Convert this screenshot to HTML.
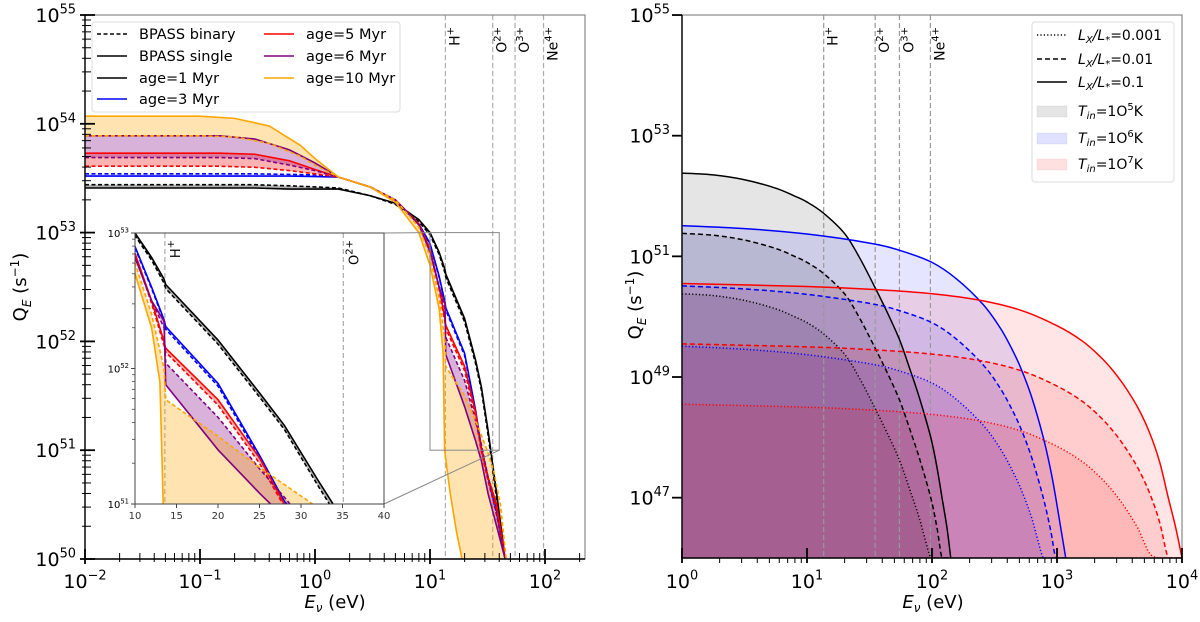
<!DOCTYPE html>
<html><head><meta charset="utf-8"><style>
html,body{margin:0;padding:0;background:#fff;width:1200px;height:622px;overflow:hidden;}
svg{display:block;font-family:"DejaVu Sans","Liberation Sans",sans-serif;}
</style></head><body>
<svg id="fig" width="1200" height="622" viewBox="0 0 1200 622" xmlns="http://www.w3.org/2000/svg">
<defs>
<clipPath id="clipL"><rect x="85" y="15" width="500" height="544"/></clipPath>
<clipPath id="clipI"><rect x="135" y="233" width="249" height="271"/></clipPath>
<clipPath id="clipR"><rect x="682" y="15" width="500" height="543"/></clipPath>
</defs>
<g id="left"></g>
<g id="right"></g>
</svg>
<script>
// ---------- LEFT PANEL DATA (log10 Q) ----------
const commonE = [0.01,0.15,0.3,0.6,1,1.6,3,5,8,10,12,13.5,13.7,20,25,28,32,38,45];
const age1Single = [53.41,53.41,53.41,53.40,53.40,53.40,53.34,53.27,53.12,53.0,52.82,52.66,52.62,52.21,51.82,51.58,51.18,50.6,49.9];
const age1Binary = [53.44,53.44,53.44,53.43,53.42,53.41,53.34,53.26,53.1,52.98,52.8,52.63,52.59,52.18,51.79,51.55,51.14,50.55,49.9];
const age3Single = [53.52,53.52,53.52,53.52,53.515,53.51,53.42,53.3,53.08,52.9,52.6,52.36,52.31,51.89,51.36,51.02,50.75,50.45,49.9];
const age3Binary = [53.54,53.54,53.54,53.535,53.53,53.51,53.42,53.3,53.08,52.89,52.59,52.35,52.29,51.87,51.34,51.0,50.72,50.42,49.9];
const age5Single = [53.73,53.73,53.72,53.66,53.58,53.51,53.42,53.3,53.08,52.85,52.5,52.2,52.15,51.77,51.34,51.0,50.75,50.5,49.9];
const age5Binary = [53.61,53.61,53.60,53.57,53.54,53.51,53.42,53.3,53.08,52.84,52.48,52.17,52.12,51.73,51.3,50.98,50.72,50.45,49.9];
const age6Single = [53.89,53.89,53.86,53.76,53.64,53.51,53.42,53.3,53.07,52.82,52.5,52.35,51.88,51.4,51.08,50.9,50.6,50.3,49.9];
const age6Binary = [53.69,53.69,53.68,53.62,53.57,53.51,53.42,53.3,53.07,52.82,52.5,52.3,52.04,51.64,51.26,51.05,50.75,50.4,49.9];
const age10SingleE = [0.01,0.1,0.2,0.4,0.75,1,1.6,3,5,8,10,12,13,13.4,15,17,19];
const age10Single = [54.07,54.07,54.05,53.98,53.8,53.68,53.51,53.42,53.28,53.0,52.7,52.3,51.9,51.0,50.6,50.25,49.9];
const age10BinaryE = [0.01,0.1,0.2,0.4,0.75,1,1.6,3,5,8,10,12,13.5,13.7,20,25,31.4,36,41,46];
const age10Binary = [53.89,53.89,53.88,53.82,53.7,53.62,53.51,53.42,53.3,53.05,52.78,52.4,52.0,51.77,51.5,51.27,51.0,50.8,50.5,49.9];
const ionEdges = [13.6,35.1,54.9,97.1];
const ionLabels = ['H','O','O','Ne'];
const ionSups = ['+','2+','3+','4+'];
const leftYTicks = [50,51,52,53,54,55];
const leftXTicks = [-2,-1,0,1,2];
const insetXTicks = [10,15,20,25,30,35,40];
const insetYTicks = [51,52,53];

// ---------- RIGHT PANEL DATA (log10 E, log10 Q for Lx/L*=0.1) ----------
const t5LogE = [0,0.25,0.5,0.75,0.9,1.0,1.13,1.3,1.42,1.54,1.64,1.74,1.82,1.9,1.99,2.04,2.08,2.12,2.15];
const t5Q    = [52.38,52.35,52.27,52.13,52.0,51.9,51.72,51.38,50.98,50.5,50.08,49.62,49.15,48.65,48.0,47.5,47.0,46.5,46.0];
const t6LogE = [0,0.5,1,1.5,1.74,2.0,2.2,2.41,2.55,2.65,2.72,2.8,2.89,2.95,2.99,3.03,3.07];
const t6Q    = [51.51,51.46,51.37,51.22,51.1,50.9,50.62,50.2,49.8,49.42,49.1,48.65,48.0,47.45,47.0,46.5,46.0];
const t7LogE = [0,1,1.54,2,2.39,2.72,3,3.2,3.34,3.45,3.55,3.65,3.74,3.82,3.89,3.95,4.0];
const t7Q    = [50.55,50.5,50.45,50.38,50.27,50.1,49.85,49.6,49.35,49.1,48.82,48.48,48.08,47.6,47.0,46.5,46.0];
const lxRatios = [0.001,0.01,0.1];
const rightYTicks = [47,49,51,53,55];
const rightXTicks = [0,1,2,3,4];

// ---------- scales ----------
const lx = E => 85 + (Math.log10(E) + 2) * 115;
const ly = q => 559 - (Math.max(q, 50) - 50) * 108.8;
const ix = E => 135 + (E - 10) * 8.3;
const iy = q => 504 - (q - 51) * 135.5;
const rx = le => 682 + le * 125;
const ry = q => 558 - (Math.max(q, 46) - 46) * 60.33;

const NS = 'http://www.w3.org/2000/svg';
function mk(tag, attrs, parent) {
  const el = document.createElementNS(NS, tag);
  for (const k in attrs) el.setAttribute(k, attrs[k]);
  parent.appendChild(el);
  return el;
}
function linePath(xs, ys) { return xs.map((x, i) => (i ? 'L' : 'M') + x.toFixed(2) + ',' + ys[i].toFixed(2)).join(''); }
function smoothPath(pts) {
  let d = 'M' + pts[0][0] + ',' + pts[0][1];
  for (let i = 0; i < pts.length - 1; i++) {
    const p0 = pts[Math.max(0, i - 1)], p1 = pts[i], p2 = pts[i + 1], p3 = pts[Math.min(pts.length - 1, i + 2)];
    const c1x = p1[0] + (p2[0] - p0[0]) / 6, c1y = Math.min(558, p1[1] + (p2[1] - p0[1]) / 6);
    const c2x = p2[0] - (p3[0] - p1[0]) / 6, c2y = Math.min(558, p2[1] - (p3[1] - p1[1]) / 6);
    d += 'C' + c1x.toFixed(2) + ',' + c1y.toFixed(2) + ' ' + c2x.toFixed(2) + ',' + c2y.toFixed(2) + ' ' + p2[0].toFixed(2) + ',' + p2[1].toFixed(2);
  }
  return d;
}
function powLabel(parent, x, y, exp, anchor, size, name) {
  const t = mk('text', {x: x, y: y, 'text-anchor': anchor, 'font-size': size, fill: '#000'}, parent);
  
  
  const a = mk('tspan', {}, t); a.textContent = '10';
  const b = mk('tspan', {dy: -size * 0.45, 'font-size': size * 0.68}, t); b.textContent = exp;
  return t;
}

const L = document.getElementById('left');
const R = document.getElementById('right');

// ================= LEFT PANEL =================
const gL = mk('g', {'clip-path': 'url(#clipL)'}, L);



const leftSeries = [
  {name: 'age-1', color: '#000000', sE: commonE, s: age1Single, bE: commonE, b: age1Binary},
  {name: 'age-3', color: '#0000ff', sE: commonE, s: age3Single, bE: commonE, b: age3Binary},
  {name: 'age-5', color: '#ff0000', sE: commonE, s: age5Single, bE: commonE, b: age5Binary},
  {name: 'age-6', color: '#800080', sE: commonE, s: age6Single, bE: commonE, b: age6Binary},
  {name: 'age-10', color: '#ffa500', sE: age10SingleE, s: age10Single, bE: age10BinaryE, b: age10Binary}
];
function drawAges(g, fx, fy, sw, prefix) {
  leftSeries.forEach(sr => {
    const xs = sr.sE.map(fx), ys = sr.s.map(fy);
    const xb = sr.bE.map(fx), yb = sr.b.map(fy);
    const d = linePath(xs.concat(xb.slice().reverse()), ys.concat(yb.slice().reverse())) + 'Z';
    const f = mk('path', {d: d, fill: sr.color, 'fill-opacity': sr.name === 'age-3' ? 0.15 : 0.3, stroke: 'none'}, g);
    
    
  });
  leftSeries.forEach(sr => {
    const pb = mk('path', {d: linePath(sr.bE.map(fx), sr.b.map(fy)), fill: 'none', stroke: sr.color, 'stroke-width': sw, 'stroke-dasharray': '4,2.5'}, g);
    
    
    const ps = mk('path', {d: linePath(sr.sE.map(fx), sr.s.map(fy)), fill: 'none', stroke: sr.color, 'stroke-width': sw}, g);
    
    
  });
}
ionEdges.forEach((e, i) => {
  const v = mk('line', {x1: lx(e), x2: lx(e), y1: 15, y2: 559, stroke: '#aaa', 'stroke-width': 1.2, 'stroke-dasharray': '5,3'}, gL);
  
  
});
drawAges(gL, lx, ly, 1.6, 'main-');

function ionLabel(parent, x, i) {
  const t = mk('text', {transform: 'translate(' + (x + 14) + ',27) rotate(-90)', 'text-anchor': 'end', 'font-size': 14}, parent);
  
  
  const a = mk('tspan', {}, t); a.textContent = ionLabels[i];
  const b = mk('tspan', {dy: -6, 'font-size': 10}, t); b.textContent = ionSups[i];
}
ionEdges.forEach((e, i) => ionLabel(L, lx(e), i));

const zr = mk('rect', {x: lx(10), y: ly(53), width: lx(40) - lx(10), height: ly(51) - ly(53), fill: 'none', stroke: '#888', 'stroke-width': 1}, L);


const c1 = mk('line', {x1: 384, y1: 233, x2: lx(10), y2: ly(53), stroke: '#888', 'stroke-width': 1}, L);


const c2 = mk('line', {x1: 384, y1: 504, x2: lx(40), y2: ly(51), stroke: '#888', 'stroke-width': 1}, L);



const sp = mk('rect', {x: 85, y: 15, width: 500, height: 544, fill: 'none', stroke: '#888', 'stroke-width': 1.2}, L);


const spl = mk('path', {d: 'M85,15V559H585', fill: 'none', stroke: '#000', 'stroke-width': 1.4}, L);



leftYTicks.forEach(q => {
  const y = ly(q);
  const t = mk('line', {x1: 80, x2: 95, y1: y, y2: y, stroke: '#000', 'stroke-width': 1.8}, L);
  
  
  powLabel(L, 76, y + 7, String(q), 'end', 19, 'left-y-tick-label');
  if (q < 55) for (let m = 2; m <= 9; m++) {
    const ym = ly(q + Math.log10(m));
    const mt = mk('line', {x1: 82, x2: 91, y1: ym, y2: ym, stroke: '#000', 'stroke-width': 1}, L);
    
    
  }
});
leftXTicks.forEach(p => {
  const x = lx(Math.pow(10, p));
  const t = mk('line', {x1: x, x2: x, y1: 549, y2: 564, stroke: '#000', 'stroke-width': 1.8}, L);
  
  
  powLabel(L, x, 588, p < 0 ? '\u2212' + (-p) : String(p), 'middle', 19, 'left-x-tick-label');
  for (let m = 2; m <= 9; m++) {
    const xm = lx(m * Math.pow(10, p));
    if (xm > 585) break;
    const mt = mk('line', {x1: xm, x2: xm, y1: 553, y2: 562, stroke: '#000', 'stroke-width': 1}, L);
    
    
  }
});
function axisTitles(parent, cx, cy, xx, xy, prefix) {
  const yt = mk('text', {transform: 'translate(' + cx + ',' + cy + ') rotate(-90)', 'text-anchor': 'middle', 'font-size': 18}, parent);
  
  
  const a = mk('tspan', {}, yt); a.textContent = 'Q';
  const b = mk('tspan', {dy: 5, 'font-size': 12, 'font-style': 'italic'}, yt); b.textContent = 'E';
  const c = mk('tspan', {dy: -5}, yt); c.textContent = ' (s';
  const d = mk('tspan', {dy: -7, 'font-size': 12}, yt); d.textContent = '\u22121';
  const e = mk('tspan', {dy: 7}, yt); e.textContent = ')';
  const xt = mk('text', {x: xx, y: xy, 'text-anchor': 'middle', 'font-size': 18}, parent);
  
  
  const f = mk('tspan', {'font-style': 'italic'}, xt); f.textContent = 'E';
  const g = mk('tspan', {dy: 4, 'font-size': 12, 'font-style': 'italic'}, xt); g.textContent = '\u03bd';
  const h = mk('tspan', {dy: -4}, xt); h.textContent = ' (eV)';
}
axisTitles(L, 26, 287, 335, 608, 'left-');

const lg = mk('g', {}, L);


const lgb = mk('rect', {x: 92, y: 22, width: 308, height: 90, rx: 3, fill: '#fff', 'fill-opacity': 0.85, stroke: '#ddd'}, lg);


const legItems = [
  {t: 'BPASS binary', c: '#000', dash: '4,2.5', x: 97, y: 34},
  {t: 'BPASS single', c: '#000', dash: '', x: 97, y: 56},
  {t: 'age=1 Myr', c: '#000', dash: '', x: 97, y: 78},
  {t: 'age=3 Myr', c: '#0000ff', dash: '', x: 97, y: 99},
  {t: 'age=5 Myr', c: '#ff0000', dash: '', x: 264, y: 34},
  {t: 'age=6 Myr', c: '#800080', dash: '', x: 264, y: 56},
  {t: 'age=10 Myr', c: '#ffa500', dash: '', x: 264, y: 78}
];
legItems.forEach(it => {
  const ln = mk('line', {x1: it.x, x2: it.x + 30, y1: it.y, y2: it.y, stroke: it.c, 'stroke-width': 1.6, 'stroke-dasharray': it.dash}, lg);
  
  
  const tx = mk('text', {x: it.x + 42, y: it.y + 5, 'font-size': 14.5}, lg);
  
  
  tx.textContent = it.t;
});

const gI0 = mk('g', {}, L);


const ib = mk('rect', {x: 135, y: 233, width: 249, height: 271, fill: '#fff'}, gI0);


const gI = mk('g', {'clip-path': 'url(#clipI)'}, gI0);


[13.6, 35.1].forEach((e, i) => {
  const v = mk('line', {x1: ix(e), x2: ix(e), y1: 233, y2: 504, stroke: '#aaa', 'stroke-width': 1.2, 'stroke-dasharray': '5,3'}, gI);
  
  
  const t = mk('text', {transform: 'translate(' + (ix(e) + 15) + ',240) rotate(-90)', 'text-anchor': 'end', 'font-size': 13}, gI);
  
  
  const a = mk('tspan', {}, t); a.textContent = ionLabels[i];
  const b = mk('tspan', {dy: -6, 'font-size': 10}, t); b.textContent = ionSups[i];
});
drawAges(gI, ix, iy, 1.6, 'inset-');
const iframe = mk('rect', {x: 135, y: 233, width: 249, height: 271, fill: 'none', stroke: '#444', 'stroke-width': 1}, gI0);


insetXTicks.forEach(e => {
  const t = mk('line', {x1: ix(e), x2: ix(e), y1: 504, y2: 508, stroke: '#444'}, gI0);
  
  
  const tl = mk('text', {x: ix(e), y: 519, 'text-anchor': 'middle', 'font-size': 10, fill: '#333'}, gI0);
  
  
  tl.textContent = String(e);
});
insetYTicks.forEach(q => {
  const t = mk('line', {x1: 131, x2: 135, y1: iy(q), y2: iy(q), stroke: '#444'}, gI0);
  
  
  powLabel(gI0, 129, iy(q) + 4, String(q), 'end', 10, 'inset-y-tick-label');
  if (q < 53) for (let m = 2; m <= 9; m++) {
    const ym = iy(q + Math.log10(m));
    const mt = mk('line', {x1: 132, x2: 135, y1: ym, y2: ym, stroke: '#444', 'stroke-width': 0.8}, gI0);
    
    
  }
});

// ================= RIGHT PANEL =================
const gR = mk('g', {'clip-path': 'url(#clipR)'}, R);


const rightSeries = [
  {name: 't5', color: '#000000', fillOp: 0.1, le: t5LogE, q: t5Q},
  {name: 't6', color: '#0000ff', fillOp: 0.1, le: t6LogE, q: t6Q},
  {name: 't7', color: '#ff0000', fillOp: 0.1, le: t7LogE, q: t7Q}
];
const dashes = ['1.2,2.2', '5,3', ''];
rightSeries.forEach(sr => {
  lxRatios.forEach((r, k) => {
    const sh = Math.log10(r / 0.1);
    const pts = sr.le.map((le, i) => [rx(le), ry(sr.q[i] + sh)]);
    const last = pts[pts.length - 1];
    const d = smoothPath(pts) + 'L' + last[0] + ',558L' + pts[0][0] + ',558Z';
    const f = mk('path', {d: d, fill: sr.color, 'fill-opacity': sr.fillOp, stroke: 'none'}, gR);
    
    
  });
});
ionEdges.forEach(e => {
  const v = mk('line', {x1: rx(Math.log10(e)), x2: rx(Math.log10(e)), y1: 15, y2: 558, stroke: '#999', 'stroke-width': 1.2, 'stroke-dasharray': '5,3'}, gR);
  
  
});
rightSeries.forEach(sr => {
  lxRatios.forEach((r, k) => {
    const sh = Math.log10(r / 0.1);
    const pts = sr.le.map((le, i) => [rx(le), ry(sr.q[i] + sh)]);
    const p = mk('path', {d: smoothPath(pts), fill: 'none', stroke: sr.color, 'stroke-width': 1.5, 'stroke-dasharray': dashes[k]}, gR);
    
    
  });
});
ionEdges.forEach((e, i) => ionLabel(R, rx(Math.log10(e)), i));
const spR = mk('rect', {x: 682, y: 15, width: 500, height: 543, fill: 'none', stroke: '#888', 'stroke-width': 1.2}, R);


const splR = mk('path', {d: 'M682,15V558H1182', fill: 'none', stroke: '#000', 'stroke-width': 1.4}, R);


rightYTicks.forEach(q => {
  const y = ry(q);
  const t = mk('line', {x1: 672, x2: 682, y1: y, y2: y, stroke: '#000', 'stroke-width': 1.8}, R);
  
  
  powLabel(R, 670, y + 7, String(q), 'end', 19, 'right-y-tick-label');
});
rightXTicks.forEach(p => {
  const x = rx(p);
  const t = mk('line', {x1: x, x2: x, y1: 548, y2: 563, stroke: '#000', 'stroke-width': 1.8}, R);
  
  
  powLabel(R, x, 588, String(p), 'middle', 19, 'right-x-tick-label');
  if (p < 4) for (let m = 2; m <= 9; m++) {
    const xm = rx(p + Math.log10(m));
    const mt = mk('line', {x1: xm, x2: xm, y1: 558, y2: 563, stroke: '#000', 'stroke-width': 1}, R);
    
    
  }
});
axisTitles(R, 641, 305, 933, 608, 'right-');

const rg = mk('g', {}, R);


const rgb = mk('rect', {x: 1032, y: 22, width: 142, height: 160, rx: 3, fill: '#fff', 'fill-opacity': 0.85, stroke: '#ddd'}, rg);


const rLines = [['0.001', '1.2,2.2', 35], ['0.01', '5,3', 59], ['0.1', '', 82]];
rLines.forEach(it => {
  const ln = mk('line', {x1: 1037, x2: 1067, y1: it[2], y2: it[2], stroke: '#000', 'stroke-width': 1.5, 'stroke-dasharray': it[1]}, rg);
  
  
  const tx = mk('text', {x: 1078, y: it[2] + 5, 'font-size': 14}, rg);
  
  
  const a = mk('tspan', {'font-style': 'italic'}, tx); a.textContent = 'L';
  const b = mk('tspan', {dy: 3, 'font-size': 10, 'font-style': 'italic'}, tx); b.textContent = 'X';
  const c = mk('tspan', {dy: -3, 'font-style': 'italic'}, tx); c.textContent = '/L';
  const d = mk('tspan', {dy: 3, 'font-size': 10}, tx); d.textContent = '*';
  const e = mk('tspan', {dy: -3}, tx); e.textContent = '=' + it[0];
});
const rPatches = [['5', '#000000', 0.1, 111], ['6', '#0000ff', 0.12, 138], ['7', '#ff0000', 0.12, 164]];
rPatches.forEach(it => {
  const pr = mk('rect', {x: 1037, y: it[3] - 5, width: 30, height: 11, fill: it[1], 'fill-opacity': it[2], stroke: it[1], 'stroke-opacity': 0.05}, rg);
  
  
  const tx = mk('text', {x: 1078, y: it[3] + 5, 'font-size': 14}, rg);
  
  
  const a = mk('tspan', {'font-style': 'italic'}, tx); a.textContent = 'T';
  const b = mk('tspan', {dy: 3, 'font-size': 10, 'font-style': 'italic'}, tx); b.textContent = 'in';
  const c = mk('tspan', {dy: -3}, tx); c.textContent = '=1O';
  const d = mk('tspan', {dy: -6, 'font-size': 10}, tx); d.textContent = it[0];
  const e = mk('tspan', {dy: 6}, tx); e.textContent = 'K';
});
</script>
</body></html>
